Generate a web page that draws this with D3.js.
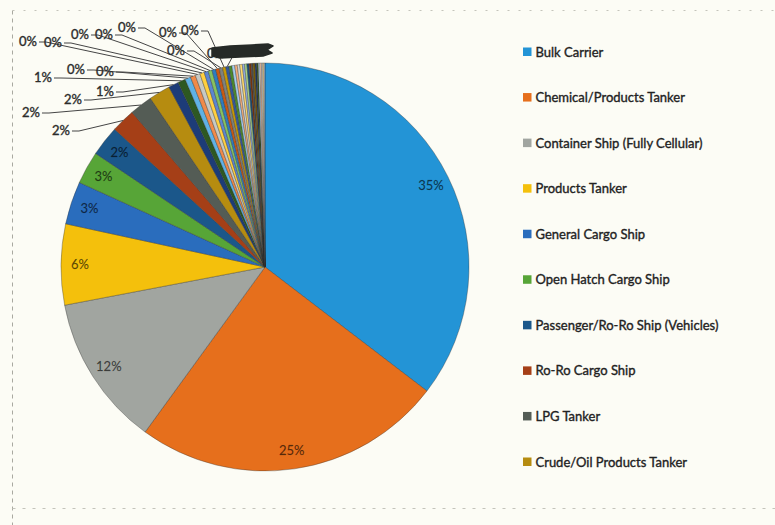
<!DOCTYPE html>
<html>
<head>
<meta charset="utf-8">
<script src="https://cdn.jsdelivr.net/npm/d3@7"></script>
<style>
  html, body { margin: 0; padding: 0; background: #fcfcf5; overflow: hidden; }
  svg { display: block; }
</style>
</head>
<body>
<svg id="chart" width="775" height="525"></svg>
<script>
// Fleet composition by ship type (share of vessels, %)
const categories = [
  "Bulk Carrier", "Chemical/Products Tanker", "Container Ship (Fully Cellular)",
  "Products Tanker", "General Cargo Ship", "Open Hatch Cargo Ship",
  "Passenger/Ro-Ro Ship (Vehicles)", "Ro-Ro Cargo Ship", "LPG Tanker",
  "Crude/Oil Products Tanker", "Crude Oil Tanker", "Refrigerated Cargo Ship",
  "Vehicles Carrier", "LNG Tanker", "Chemical Tanker", "Bulk/Oil Carrier",
  "Offshore Supply Ship", "Passenger Ship", "Cement Carrier", "Livestock Carrier",
  "Asphalt/Bitumen Tanker", "Heavy Load Carrier", "Wood Chips Carrier",
  "Palletised Cargo Ship", "Ore Carrier", "Tug", "Fishing Vessel",
  "Research Vessel", "Pipe Layer", "Dredger", "Crew Boat", "Fish Carrier",
  "Fruit Juice Tanker", "Water Tanker", "Edible Oil Tanker", "Landing Craft",
  "Barge Carrier", "Hopper Dredger", "Anchor Handling Tug Supply",
  "Standby Safety Vessel", "Sail Training Ship"
];
const shares = [
  35.4, 24.6, 12.0, 6.4, 3.4, 2.6, 2.4, 1.9, 1.8, 1.7, 0.8, 0.6,
  0.45, 0.4, 0.38, 0.35, 0.33, 0.3, 0.3, 0.28, 0.27, 0.25, 0.25, 0.24,
  0.22, 0.2, 0.2, 0.2, 0.18, 0.18, 0.17, 0.16, 0.15, 0.15, 0.14, 0.13,
  0.12, 0.12, 0.11, 0.1, 0.07
];
// only the leading types are listed in the legend
const legendCount = 10;
// slices whose labels sit inside the pie
const insideLabelCount = 7;
// outside callouts: slice index and label centre
const callouts = [
  [7, 61, 130], [8, 31, 112], [9, 73, 99], [10, 105, 91], [11, 43, 77],
  [12, 76, 69], [13, 105, 71], [14, 28, 41], [15, 53, 42], [16, 80, 34],
  [17, 104, 34], [18, 127, 27], [19, 168, 32], [20, 176, 50], [21, 190, 30],
  [22, 216, 53]
];

const palette = [
  "#2394d6", "#e66f1c", "#a1a5a0", "#f4c00c", "#2a6dbd", "#57a537",
  "#1b578a", "#a53f17", "#545c55", "#b68c10", "#1d3c78", "#2d5822",
  "#5fb2e6", "#f08a4a", "#c7c9c4", "#ffd040", "#5c86d0", "#86c261",
  "#2e7cbf", "#c95a14", "#7f827e", "#c89a05", "#34589c", "#4c8a2c",
  "#a4cdee", "#f6b07d", "#d6d8d4", "#ffdb70", "#93aee0", "#a9d68a",
  "#1a4f79", "#7f350b", "#4d4f4c", "#7c5d00", "#1f3663", "#365a22",
  "#c9e1f5", "#f9c9a8", "#e3e4e1", "#ffe69f", "#b9cbec"
];

const svg = d3.select("#chart");
const W = 775, H = 525;
const cx = 265, cy = 267, R = 204;
const font = "Lato, 'Open Sans', sans-serif";

// chart area frame: left, top and bottom edges
const frame = svg.append("g")
  .attr("fill", "none")
  .attr("stroke-width", 1);
frame.append("path").attr("d", `M12.5,10.5 V${H}`)
  .attr("stroke", "#a9a9a0").attr("stroke-dasharray", "4,4");
frame.append("path").attr("d", `M12.5,10.5 H${W}`)
  .attr("stroke", "#c4c4bb").attr("stroke-dasharray", "2,9");
frame.append("path").attr("d", `M12.5,508.5 H${W}`)
  .attr("stroke", "#c4c4bb").attr("stroke-dasharray", "3,7");

const data = categories.map((c, i) => ({ name: c, value: shares[i], i }));
const color = d3.scaleOrdinal().domain(categories).range(palette);

const pie = d3.pie().value(d => d.value).sort(null);
const arcs = pie(data);
const arc = d3.arc().innerRadius(0).outerRadius(R);
const rim = d3.arc().innerRadius(R).outerRadius(R);
const inner = d3.arc().innerRadius(185).outerRadius(185);

const g = svg.append("g").attr("transform", `translate(${cx},${cy})`);

g.selectAll("path.slice")
  .data(arcs)
  .join("path")
  .attr("class", "slice")
  .attr("d", arc)
  .attr("fill", d => color(d.data.name))
  .attr("stroke", "#2e2e2e")
  .attr("stroke-opacity", 0.5)
  .attr("stroke-width", 0.7);

const fmt = v => Math.round(v) + "%";

// labels inside the larger slices
g.selectAll("text.inside")
  .data(arcs.slice(0, insideLabelCount))
  .join("text")
  .attr("class", "inside")
  .attr("transform", d => `translate(${inner.centroid(d)})`)
  .attr("text-anchor", "middle")
  .attr("dy", "0.35em")
  .attr("font-family", font)
  .attr("font-size", 13)
  .attr("fill", "#000")
  .attr("fill-opacity", 0.62)
  .attr("stroke", "#000")
  .attr("stroke-opacity", 0.25)
  .attr("stroke-width", 0.4)
  .text(d => fmt(d.data.value));

// callouts with leader lines
const outer = svg.append("g");
callouts.forEach(([idx, lx, ly]) => {
  const a = arcs[idx];
  const t = outer.append("text")
    .attr("x", lx).attr("y", ly)
    .attr("text-anchor", "middle")
    .attr("dy", "0.35em")
    .attr("font-family", font)
    .attr("font-size", 13)
    .attr("fill", "#2c2c2c")
    .attr("stroke", "#2c2c2c")
    .attr("stroke-width", 0.35)
    .text(fmt(a.data.value));
  const w = t.node().getComputedTextLength();
  const [px, py] = rim.centroid(a);
  const x0 = lx + w / 2 + 2, y0 = ly + 1;
  outer.insert("path", "text")
    .attr("d", d3.line()([[x0, y0], [x0 + 7, y0], [cx + px, cy + py]]))
    .attr("fill", "none")
    .attr("stroke", "#454545")
    .attr("stroke-width", 1);
});

// heavy ink stroke across the crowded top labels
svg.append("path")
  .attr("d", "M212,48 L230,46 L252,45 L268,44 L273,46 L267,50 L272,53 L263,56 L240,57 L220,58 L212,56 Z")
  .attr("fill", "#262a27")
  .attr("stroke", "#262a27")
  .attr("stroke-width", 1.5)
  .attr("stroke-linejoin", "round");

// legend
const legendItems = categories.slice(0, legendCount);
const ly = d3.scalePoint().domain(legendItems).range([52, 462]);
const leg = svg.append("g");
const row = leg.selectAll("g").data(legendItems).join("g")
  .attr("transform", d => `translate(523,${ly(d)})`);
row.append("rect")
  .attr("x", 0).attr("y", -4.5)
  .attr("width", 8.5).attr("height", 8.5)
  .attr("fill", d => color(d));
row.append("text")
  .attr("x", 12.5).attr("y", 0)
  .attr("dy", "0.35em")
  .attr("font-family", font)
  .attr("font-size", 13)
  .attr("fill", "#222")
  .attr("stroke", "#222")
  .attr("stroke-width", 0.35)
  .text(d => d);
</script>
</body>
</html>
